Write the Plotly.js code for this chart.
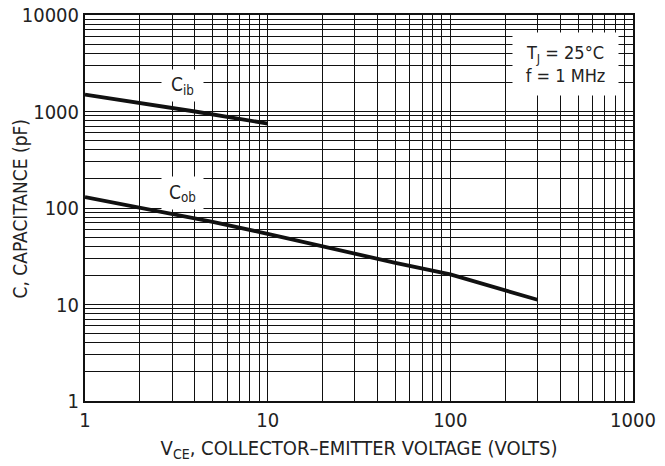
<!DOCTYPE html>
<html>
<head>
<meta charset="utf-8">
<script src="https://cdn.plot.ly/plotly-3.0.1.min.js"></script>
<style>html,body{margin:0;padding:0;background:#fff;}#chart{width:665px;height:466px;}</style>
</head>
<body>
<div id="chart"></div>
<script>
// Data
var cibVoltage = [1, 2, 4, 10];
var cibCapacitance = [1500, 1230, 1000, 750];
var cobVoltage = [1, 2, 5, 10, 20, 50, 100, 200, 300];
var cobCapacitance = [130, 100, 72, 54, 40, 27, 20.5, 13.8, 11.2];
var xTickVals = [1, 10, 100, 1000];
var xTickText = ['1', '10', '100', '1000'];
var yTickVals = [1, 10, 100, 1000, 10000];
var yTickText = ['1', '10', '100', '1000', '10000'];

var FONT = 'DejaVu Sans Condensed, Liberation Sans Narrow, Arial Narrow, sans-serif';

var traces = [
  {x: cibVoltage, y: cibCapacitance, mode: 'lines', line: {color: '#111', width: 3.8}, hoverinfo: 'skip'},
  {x: cobVoltage, y: cobCapacitance, mode: 'lines', line: {color: '#111', width: 3.8}, hoverinfo: 'skip'}
];

var axisCommon = {
  type: 'log',
  showline: true, linecolor: '#111', linewidth: 2, mirror: true,
  showgrid: true, gridcolor: '#111', gridwidth: 1,
  ticks: '', zeroline: false,
  tickfont: {family: FONT, size: 20, color: '#222'},
  minor: {dtick: 'D1', showgrid: true, gridcolor: '#111', gridwidth: 1, ticks: ''}
};

var layout = {
  width: 665, height: 466,
  margin: {l: 85, r: 32, t: 15, b: 65},
  paper_bgcolor: '#fff', plot_bgcolor: '#fff',
  showlegend: false,
  font: {family: FONT, color: '#222'},
  xaxis: Object.assign({}, axisCommon, {
    range: [0, 3], tickvals: xTickVals, ticktext: xTickText,
    title: {text: 'V<sub>CE</sub>, COLLECTOR\u2013EMITTER VOLTAGE (VOLTS)', font: {family: FONT, size: 20, color: '#222'}, standoff: 10}
  }),
  yaxis: Object.assign({}, axisCommon, {
    range: [0, 4], tickvals: yTickVals, ticktext: yTickText,
    tickfont: {family: FONT, size: 20, color: '#222'}
  }),
  annotations: [
    {xref: 'paper', yref: 'paper', x: -0.118, y: 0.497, xanchor: 'center', yanchor: 'middle', textangle: -90,
     text: 'C, CAPACITANCE (pF)', showarrow: false,
     font: {family: FONT, size: 19, color: '#222'}},
    {xref: 'paper', yref: 'paper', x: 0.178, y: 0.817, xanchor: 'center', yanchor: 'middle',
     text: 'C<sub>ib</sub>', showarrow: false, bgcolor: '#fff', width: 41, height: 31, borderpad: 0,
     font: {family: FONT, size: 19, color: '#222'}},
    {xref: 'paper', yref: 'paper', x: 0.178, y: 0.539, xanchor: 'center', yanchor: 'middle',
     text: 'C<sub>ob</sub>', showarrow: false, bgcolor: '#fff', width: 41, height: 32, borderpad: 0,
     font: {family: FONT, size: 19, color: '#222'}},
    {xref: 'paper', yref: 'paper', x: 0.877, y: 0.873, xanchor: 'center', yanchor: 'middle',
     text: 'T<sub>J</sub> = 25\u00B0C<br>f = 1 MHz', showarrow: false, bgcolor: '#fff', width: 105, height: 62, borderpad: 0,
     align: 'center', font: {family: FONT, size: 18, color: '#222'}}
  ]
};

Plotly.newPlot('chart', traces, layout, {staticPlot: true, displayModeBar: false});
</script>
</body>
</html>
